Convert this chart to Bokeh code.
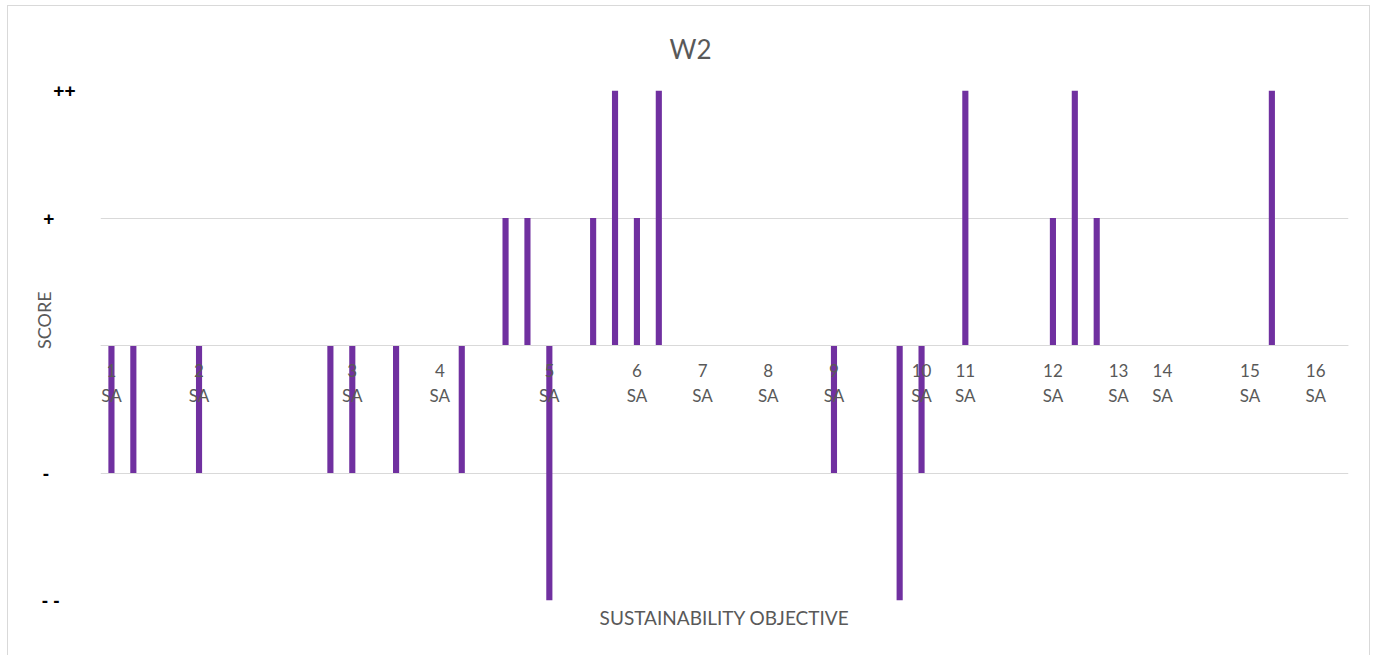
from bokeh.plotting import figure
from bokeh.models import Range1d, FixedTicker, Title, ColumnDataSource
from bokeh.embed import file_html
from bokeh.resources import INLINE

# ---- data ----
n_slots = 57
bar_slot = [0, 1, 4, 10, 11, 13, 16, 18, 19, 20, 22, 23, 24, 25, 33, 36, 37, 39, 43, 44, 45, 53]
bar_score = [-1, -1, -1, -1, -1, -1, -1, 1, 1, -2, 1, 2, 1, 2, -1, -2, -1, 2, 1, 2, 1, 2]
sa_slot = [0, 4, 11, 15, 20, 24, 27, 30, 33, 37, 39, 43, 46, 48, 52, 55]
sa_number = [str(i) for i in range(1, 17)]
score_ticks = [-2, -1, 0, 1, 2]
score_labels = ["- -", "-", "", "+", "++"]
chart_title = "W2"
x_title = "SUSTAINABILITY OBJECTIVE"
y_title = "SCORE"

FONT = "Lato"
GRAY = "#595959"
GRID = "#d9d9d9"
PURPLE = "#7030a0"
NB = "\u00a0"
label_pad = {"- -": 3, "-": 5, "": 0, "+": 4, "++": 0}

src = ColumnDataSource(dict(x=bar_slot, top=bar_score))

p = figure(width=1363, height=650, output_backend="svg", toolbar_location=None,
           x_range=Range1d(-0.5, n_slots - 0.5), y_range=Range1d(-2, 2),
           min_border_left=92, min_border_right=23, min_border_top=84, min_border_bottom=56)
p.styles = {"border": "1px solid #d9d9d9", "border-bottom": "none", "box-sizing": "border-box",
            "margin-left": "7px", "margin-top": "5px"}
p.outline_line_color = None
p.background_fill_color = "white"
p.border_fill_color = "white"

p.vbar(x="x", top="top", bottom=0, width=0.28, source=src, fill_color=PURPLE, line_color=None)

# grid
p.xgrid.grid_line_color = None
p.ygrid.ticker = FixedTicker(ticks=score_ticks)
p.ygrid.grid_line_color = GRID
p.ygrid.level = "underlay"

# y axis
ya = p.yaxis[0]
ya.ticker = FixedTicker(ticks=score_ticks)
ya.major_label_overrides = {t: l + NB * label_pad[l] for t, l in zip(score_ticks, score_labels)}
ya.axis_line_color = None
ya.major_tick_line_color = None
ya.minor_tick_line_color = None
ya.major_label_standoff = 19
ya.major_label_text_font = "Liberation Sans"
ya.major_label_text_font_size = "19px"
ya.major_label_text_font_style = "bold"
ya.major_label_text_color = "#000000"
ya.axis_label = NB * 11 + y_title
ya.axis_label_text_font = FONT
ya.axis_label_text_font_size = "18px"
ya.axis_label_text_font_style = "normal"
ya.axis_label_text_color = GRAY
ya.axis_label_standoff = -16

# x axis at zero
xa = p.xaxis[0]
xa.fixed_location = 0
xa.ticker = FixedTicker(ticks=sa_slot)
xa.major_label_overrides = {s: f"{n}\nSA" for s, n in zip(sa_slot, sa_number)}
xa.axis_line_color = GRID
xa.major_tick_line_color = None
xa.minor_tick_line_color = None
xa.major_label_standoff = 8
xa.major_label_text_font = FONT
xa.major_label_text_font_size = "17px"
xa.major_label_text_color = GRAY
xa.major_label_text_line_height = 1.2

# titles
p.add_layout(Title(text=x_title, align="center", text_font=FONT, text_font_size="19px",
                   text_font_style="normal", text_color=GRAY, standoff=6), "below")
p.add_layout(Title(text=chart_title, align="left", vertical_align="top", text_font=FONT,
                   text_font_size="26px", text_font_style="normal", text_color=GRAY,
                   offset=569, standoff=48), "above")

open("out.html", "w").write(file_html(p, INLINE))
